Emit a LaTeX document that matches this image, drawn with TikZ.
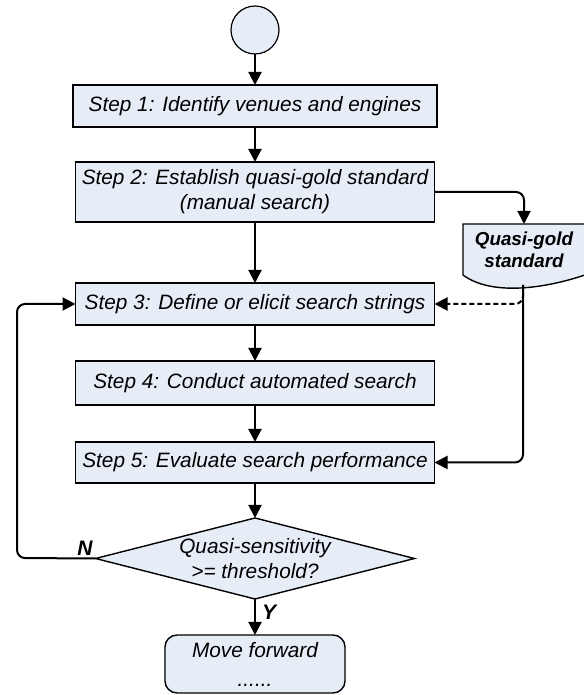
\documentclass[tikz,border=0pt]{standalone}
\usepackage{fontspec}
\setmainfont{Liberation Sans}
\usepackage{tikz}
\usetikzlibrary{arrows.meta,positioning,shapes.geometric,backgrounds}
\definecolor{boxfill}{RGB}{231,237,247}
\newcommand{\stepfont}{\fontsize{10.4}{12.5}\selectfont\itshape}

\begin{document}
\begin{tikzpicture}[x=0.5pt,y=0.5pt,
	stepbox/.style={rectangle,draw,line width=0.7pt,fill=boxfill,minimum width=179.5pt,minimum height=21pt,align=center,font=\stepfont,inner sep=2pt,outer sep=0pt},
	startnode/.style={circle,draw,line width=0.6pt,fill=boxfill,minimum size=24pt,outer sep=0pt},
	decision/.style={diamond,draw,line width=0.7pt,fill=boxfill,shape aspect=3.9,minimum width=159.5pt,minimum height=40.5pt,inner xsep=-6pt,inner ysep=-3pt,align=center,font=\stepfont,outer sep=0pt},
	endbox/.style={rectangle,rounded corners=6pt,draw,line width=0.7pt,fill=boxfill,minimum width=90pt,minimum height=29pt,align=center,font=\stepfont,outer sep=0pt},
	doctext/.style={rectangle,minimum width=61pt,minimum height=25.5pt,align=center,inner sep=1pt,outer sep=0pt,font=\fontsize{9.4}{11}\selectfont\bfseries\itshape},
	yesno/.style={inner sep=1pt,font=\fontsize{10.5}{12}\selectfont\bfseries\itshape},
	arr/.style={-{Triangle[length=6.5pt,width=6.5pt]},line width=1pt}]
	\useasboundingbox (0,0) rectangle (583,695);

	\begin{scope}
		\node[startnode] (start) at (255,665) {};
		\node[stepbox,minimum width=182pt,below=15.5pt of start] (s1) {Step 1: Identify venues and engines};
		\node[stepbox,minimum height=30pt,below=17.5pt of s1] (s2) {Step 2: Establish quasi-gold standard\\(manual search)};
		\node[stepbox,below=30.5pt of s2] (s3) {Step 3: Define or elicit search strings};
		\node[stepbox,minimum height=22pt,below=18pt of s3] (s4) {Step 4: Conduct automated search};
		\node[stepbox,minimum height=20.5pt,below=18.5pt of s4] (s5) {Step 5: Evaluate search performance};
		\node[decision,below=17.5pt of s5] (dec) {Quasi-sensitivity\\>= threshold?};
		\node[endbox,below=18pt of dec] (fwd) {Move forward\\[2pt]......};

		\node[doctext] (doc) at (524,445.5) {Quasi-gold\\standard};
		\coordinate (docb) at (523,410);
		\coordinate (loop) at (17,137);
	\end{scope}

	% document shape
	\begin{scope}[on background layer]
		\draw[line width=0.7pt,fill=boxfill] (doc.south west) -- (doc.north west) -- (doc.north east) -- (doc.south east)
			.. controls +(-45,-15) and +(27,-20) .. (doc.south west) -- cycle;
	\end{scope}

	\begin{scope}
		\draw[arr] (start) -- (start |- s1.north);
		\draw[arr] (s1.south -| s2) -- (s2);
		\draw[arr] (s2) -- (s3);
		\draw[arr] (s3) -- (s4);
		\draw[arr] (s4) -- (s5);
		\draw[arr] (s5) -- (dec);
		\draw[arr] (dec) -- node[yesno,right=2pt,pos=0.38] {Y} (fwd);

		\draw[arr,rounded corners=4pt] (s2.east) -| (doc.north);
		\draw[arr,rounded corners=4pt] (docb) |- (s5.east);
		\draw[arr,dashed,dash pattern=on 2.5pt off 1.5pt,rounded corners=4pt] (docb) |- (s3.east);
		\draw[arr,rounded corners=4pt] (dec.west) node[yesno,anchor=south east] {N} -- (loop) |- (s3.west);
	\end{scope}
\end{tikzpicture}
\end{document}
